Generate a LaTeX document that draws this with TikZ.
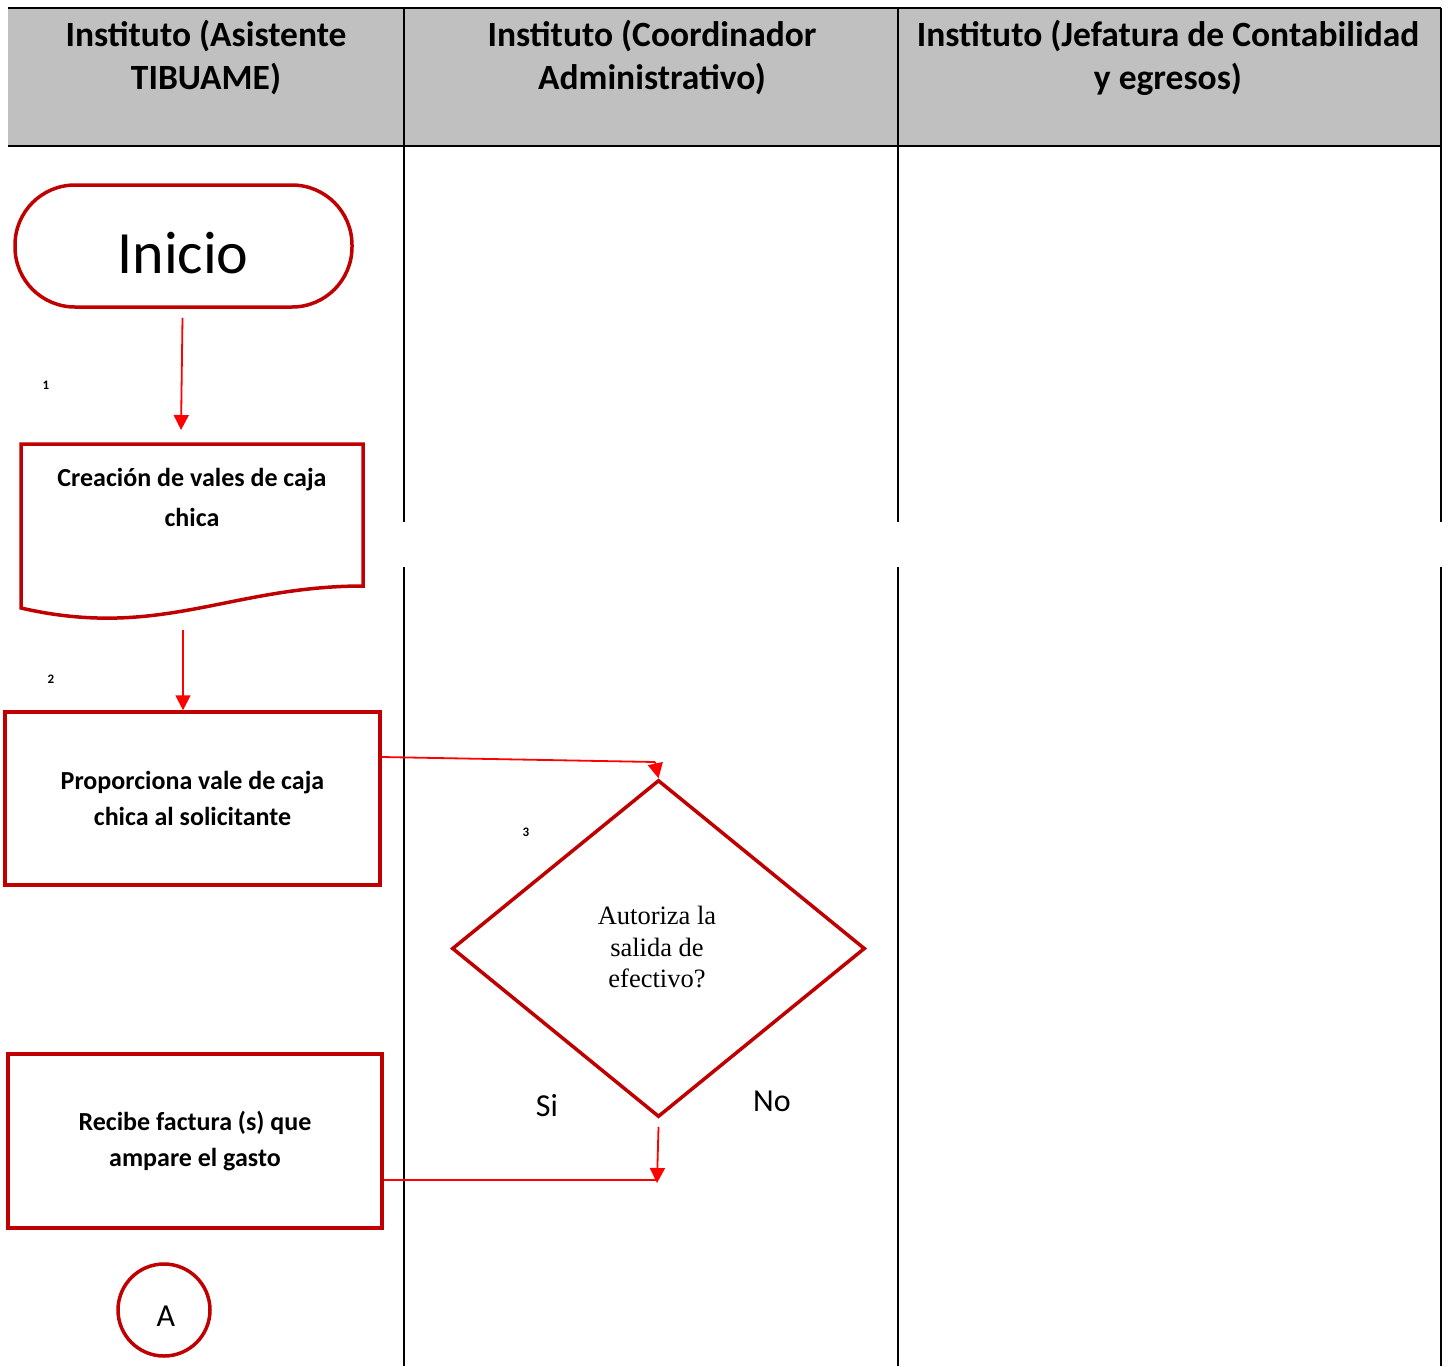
\documentclass[tikz,border=0pt]{standalone}
\usepackage{fontspec}
\setmainfont{Carlito}
\newfontfamily\serifdiag{Liberation Serif}
\usetikzlibrary{shapes.geometric,arrows.meta}
\definecolor{shapered}{HTML}{C00000}
\definecolor{linered}{HTML}{FF0000}
\definecolor{headgray}{HTML}{C0C0C0}
\tikzset{
  shapeline/.style={draw=shapered,line width=3.5pt},
  boxnode/.style={shapeline,rectangle,inner sep=0pt,align=center,font=\fontsize{26}{36}\selectfont\bfseries},
  flow/.style={draw=linered,line width=1.8pt,-{Triangle[length=15pt,width=15pt]}},
  flowplain/.style={draw=linered,line width=1.8pt},
  lane/.style={draw=black,line width=2pt},
  headtext/.style={align=center,font=\fontsize{35.5}{43}\selectfont\bfseries},
  stepnum/.style={font=\fontsize{13}{13}\selectfont\bfseries},
}
\begin{document}
\begin{tikzpicture}[x=1pt,y=-1pt]
\useasboundingbox (0,0) rectangle (1448,1366);
% header
\fill[headgray] (8,8) rectangle (1441,146);
\draw[lane] (8,8) -- (1441,8);
\draw[lane] (8,146) -- (1441,146);
\foreach \xx in {404,898,1441}{
  \draw[lane] (\xx,8) -- (\xx,522);
  \draw[lane] (\xx,567) -- (\xx,1366);
}
\node[headtext] (h1) at (206,58) {Instituto (Asistente\\TIBUAME)};
\node[headtext] (h2) at (652,58) {Instituto (Coordinador\\Administrativo)};
\node[headtext] (h3) at (1168,58) {Instituto (Jefatura de Contabilidad\\y egresos)};
% start
\node[shapeline,rectangle,rounded corners=60pt,minimum width=337pt,minimum height=122pt,inner sep=0pt] (inicio) at (183.5,246) {};
\node[font=\fontsize{60}{60}\selectfont] (iniciotext) at (183,253) {Inicio};
% document shape
\node[minimum width=342pt,minimum height=174pt,inner sep=0pt] (doc) at (192,531) {};
\draw[shapeline] (21,444) -- (363,444) -- (363,586) .. controls (230,586) and (160,640) .. (21,608) -- cycle;
\node[align=center,font=\fontsize{26}{40}\selectfont\bfseries] (doctext) at (192,497) {Creación de vales de caja\\chica};
% process boxes
\node[boxnode,minimum width=375pt,minimum height=173pt] (prop) at (192.5,798.5) {Proporciona vale de caja\\chica al solicitante};
\node[boxnode,minimum width=374pt,minimum height=174pt] (recibe) at (195,1141) {Recibe factura (s) que\\ampare el gasto};
% decision
\node[shapeline,diamond,minimum width=413pt,minimum height=337pt,inner sep=0pt] (dec) at (658.5,948.5) {};
\node[align=center,font=\serifdiag\fontsize{26.5}{31.5}\selectfont] (dectext) at (657,947) {Autoriza la\\salida de\\efectivo?};
% connector
\node[shapeline,circle,minimum size=92pt,inner sep=0pt] (conA) at (164,1310) {};
\node[font=\fontsize{32}{32}\selectfont] (conAtext) at (166,1316) {A};
% step numbers
\node[stepnum] (n1) at (46,385) {1};
\node[stepnum] (n2) at (51,679) {2};
\node[stepnum] (n3) at (526,832) {3};
% labels
\node[font=\fontsize{32}{32}\selectfont] (si) at (547,1106) {Si};
\node[font=\fontsize{32}{32}\selectfont] (no) at (772,1101) {No};
% connectors
\coordinate (k0) at (181,430);
\draw[flow] ([xshift=-1pt,yshift=-9pt]inicio.south) -- (k0);
\draw[flow] ([xshift=-9pt,yshift=-12pt]doc.south) -- (prop.north -| 183,0);
\coordinate (k1) at (655,762);
\draw[flowplain] ([yshift=41.5pt]prop.east) -- (k1);
\draw[flow] (k1) -- (dec.north);
\coordinate (k2) at (657,1183);
\draw[flow] ([yshift=-8pt]dec.south) -- (k2);
\draw[flowplain] ([yshift=-39pt]recibe.east) -- ([yshift=-39pt]recibe.east -| k2);
\end{tikzpicture}
\end{document}
